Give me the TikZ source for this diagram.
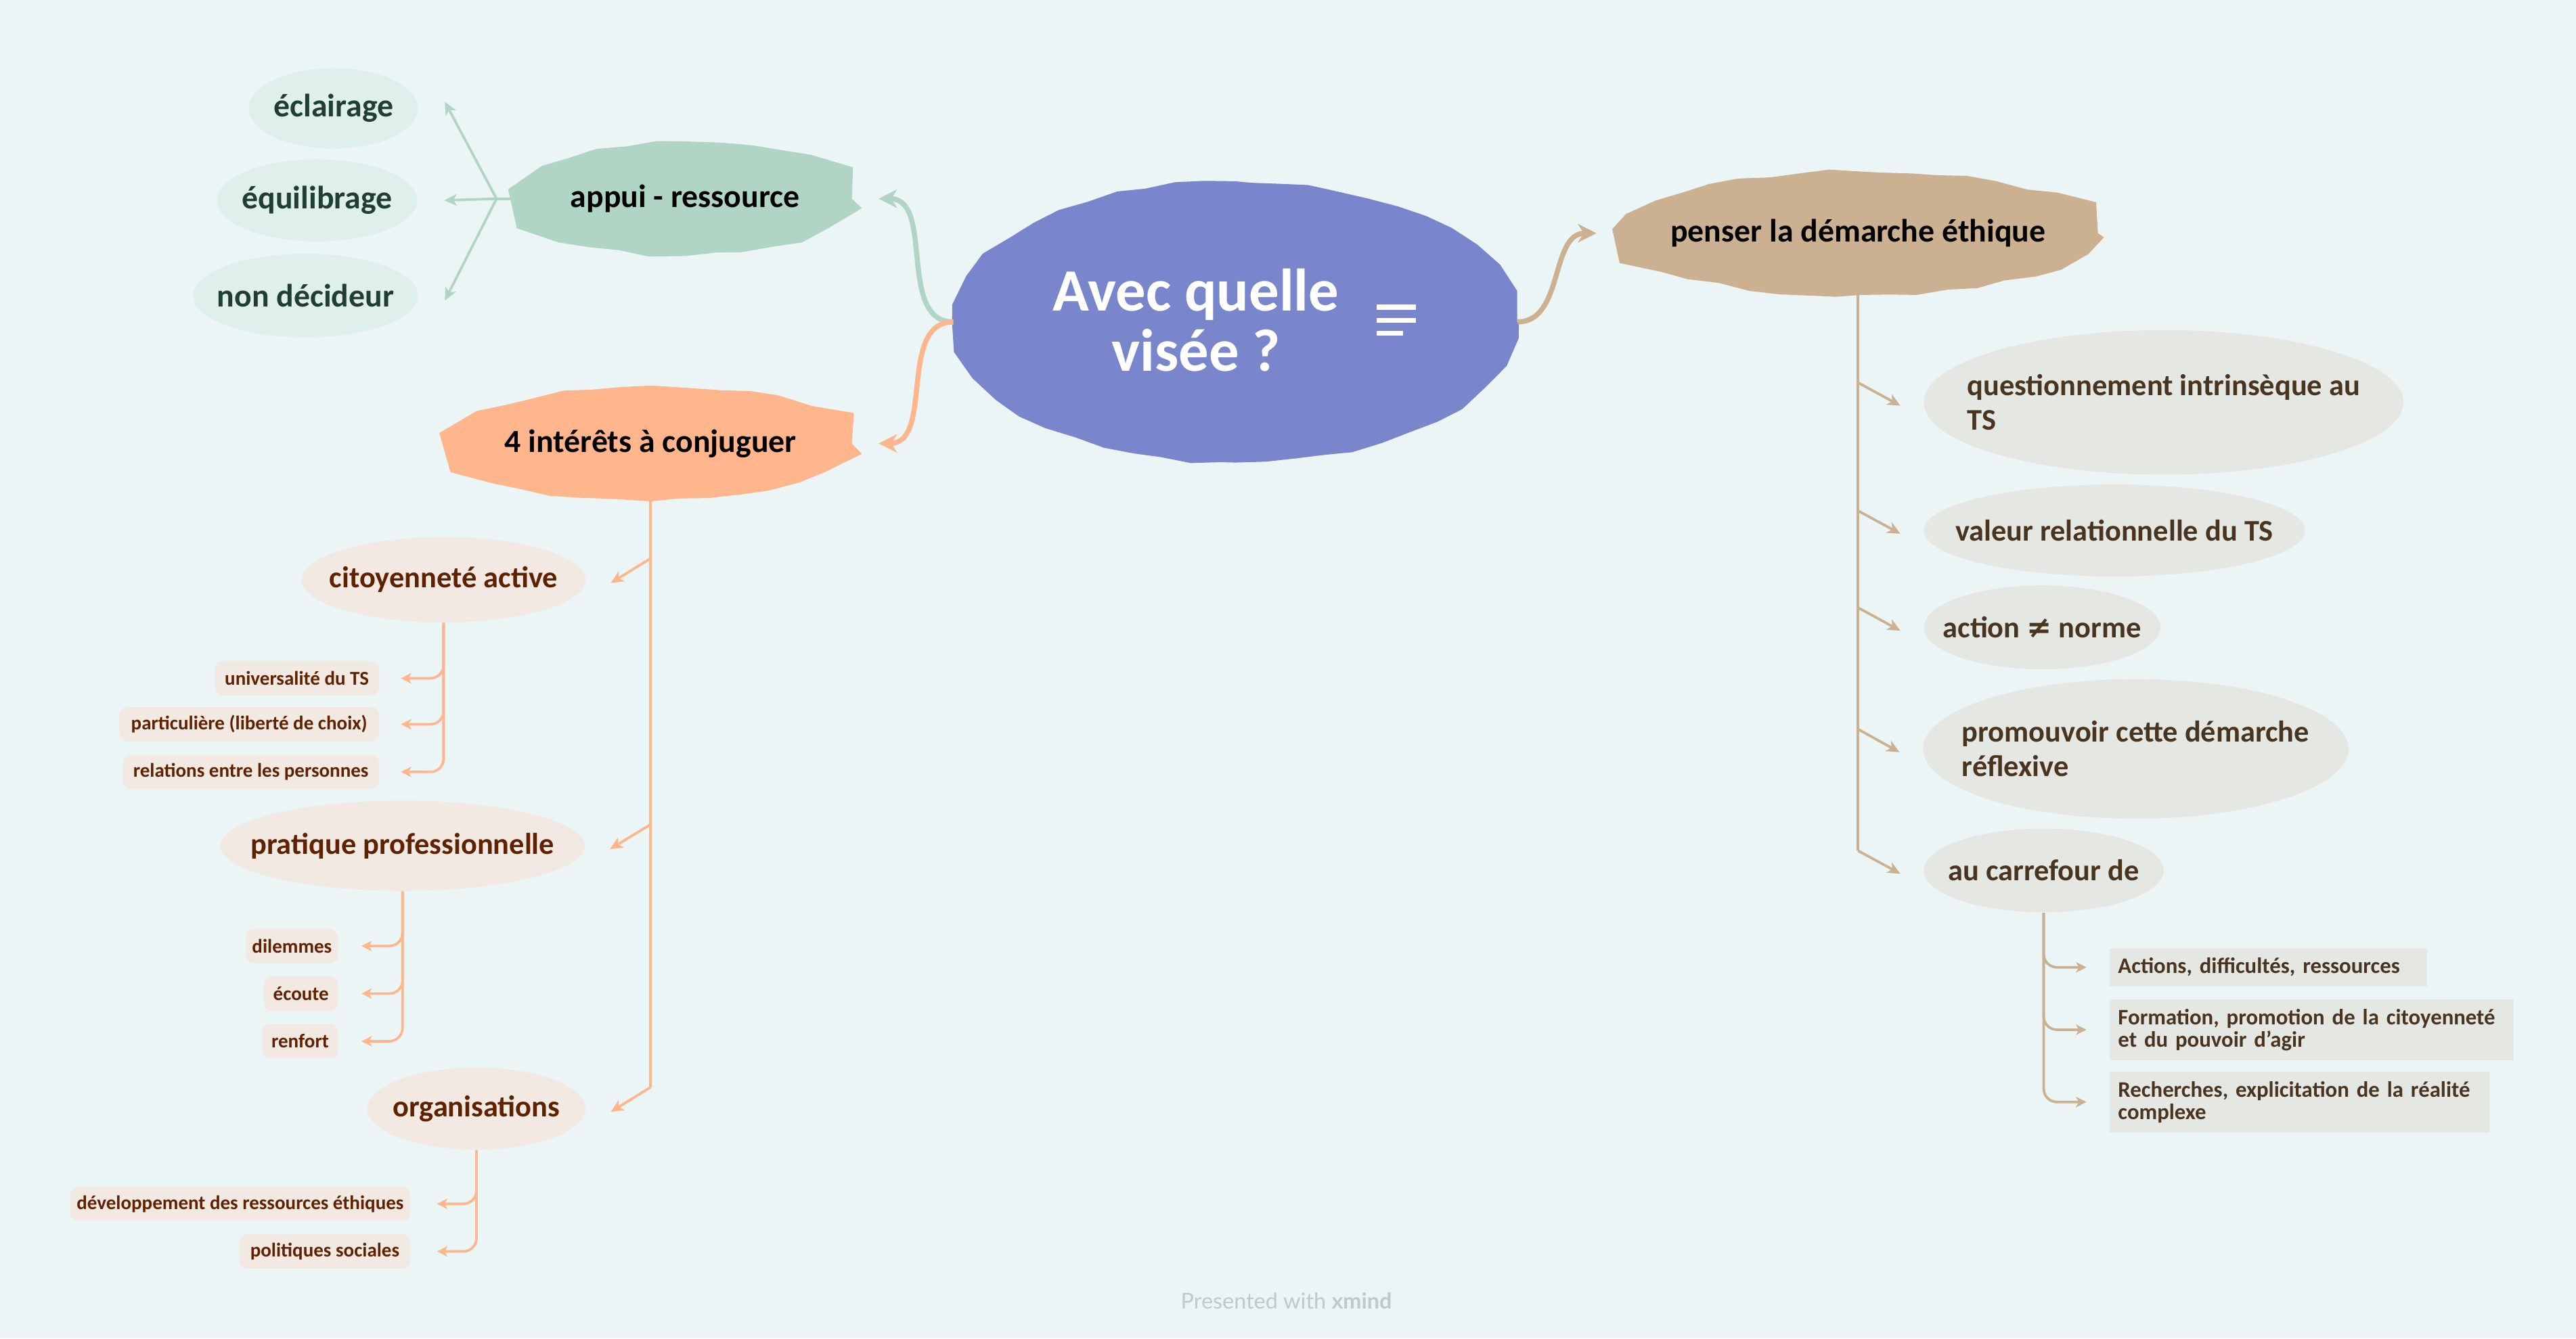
\documentclass[tikz,border=0pt]{standalone}
\usepackage{fontspec}
\setmainfont{Carlito}
\newfontfamily\footfont{Lato}
\newfontfamily\symfont{DejaVu Sans}
\usetikzlibrary{arrows.meta,positioning,shapes.geometric,calc,decorations.pathmorphing}
\definecolor{cPaper}{HTML}{ECF5F5}
\definecolor{cCentre}{HTML}{7986CB}
\definecolor{cSupport}{HTML}{B0D5C5}
\definecolor{cSupportLt}{HTML}{DFEFEB}
\definecolor{cSupportTx}{HTML}{1F3F31}
\definecolor{cInterest}{HTML}{FFB68C}
\definecolor{cInterestLt}{HTML}{F1E9E2}
\definecolor{cInterestTx}{HTML}{5E2200}
\definecolor{cEthic}{HTML}{CBB091}
\definecolor{cEthicLt}{HTML}{E4E7E2}
\definecolor{cEthicTx}{HTML}{48341F}
\definecolor{cFooter}{HTML}{BFC9C9}
\def\px{0.025cm}

\begin{document}
\pgfmathsetseed{11}
\begin{tikzpicture}[x=\px, y=-\px,
    blob/.style={ellipse, fill=#1, inner xsep=-3cm, inner ysep=-1cm, decorate, decoration={random steps, segment length=0.45cm, amplitude=0.035cm}},
    bubble/.style={ellipse, fill=#1, inner xsep=-3cm, inner ysep=-1cm},
    topic/.style={font=\fontsize{14}{16}\selectfont\bfseries, text=black},
    idea/.style={font=\fontsize{13}{15}\selectfont\bfseries},
    leaf/.style={rectangle, rounded corners=0.12cm, fill=cInterestLt, text=cInterestTx, font=\fontsize{8.5}{10}\selectfont\bfseries, inner xsep=1pt, minimum height=21*\px, anchor=east},
    note/.style={rectangle, fill=cEthicLt, text=cEthicTx, font=\fontsize{9.6}{9.6}\selectfont\bfseries, inner xsep=5*\px, align=left, anchor=west},
    marr/.style={draw=#1, line width=2.2pt, -{Stealth[length=8pt, width=8pt, inset=2.5pt]}},
    sarr/.style={draw=#1, line width=1.1pt, -{Stealth[length=5.5pt, width=5pt, inset=1.5pt]}},
    larr/.style={draw=#1, line width=1.1pt, rounded corners=0.2cm, -{Stealth[length=4.5pt, width=4.5pt, inset=1.2pt]}},
    tline/.style={draw=#1, line width=1.2pt},
]
\fill[cPaper] (0,0) rectangle (1568,815);
\useasboundingbox (0,0) rectangle (1568,815);

% Centre
\node[blob=cCentre, minimum width=343*\px, minimum height=171*\px] (c) at (752,196) {};
\node[font=\fontsize{26}{26}\selectfont\bfseries, text=white, align=center] (ct) at (728,195) {Avec quelle\\visée ?};
\foreach \dy/\len in {-9/24, -1/24, 7/16}
  \draw[white, line width=2.2pt] ($(c.center)+(86,\dy)$) -- ++(\len,0);

% Main topics
\node[blob=cSupport, topic, minimum width=203*\px, minimum height=68*\px] (ap) at (417,121) {appui - ressource};
\node[blob=cInterest, topic, minimum width=245*\px, minimum height=69*\px] (oi) at (396,270) {4 intérêts à conjuguer};
\node[blob=cEthic, topic, minimum width=292*\px, minimum height=75*\px] (pe) at (1131,142) {penser la démarche éthique};

\draw[marr=cSupport] (c.west) to[out=180, in=0] ($(ap.east)+(16,0)$);
\draw[marr=cInterest] (c.west) to[out=180, in=0] ($(oi.east)+(16,0)$);
\draw[marr=cEthic] (c.east) to[out=0, in=180] ($(pe.west)+(-13,0)$);

% appui - ressource
\node[bubble=cSupportLt, font=\fontsize{14}{16}\selectfont\bfseries, text=cSupportTx, minimum width=103*\px, minimum height=49*\px] (ecl) at (203,66) {éclairage};
\node[bubble=cSupportLt, font=\fontsize{14}{16}\selectfont\bfseries, text=cSupportTx, minimum width=122*\px, minimum height=50*\px] (equ) at (193,122) {équilibrage};
\node[bubble=cSupportLt, font=\fontsize{14}{16}\selectfont\bfseries, text=cSupportTx, minimum width=137*\px, minimum height=51*\px] (nd) at (186,180) {non décideur};

\coordinate (gj) at ($(ap.west)+(-13,0)$);
\draw[tline=cSupport] (ap.west) -- (gj);
\draw[sarr=cSupport] (gj) -- ($(ecl.east)+(16,-4)$);
\draw[sarr=cSupport] (gj) -- ($(equ.east)+(16,0)$);
\draw[sarr=cSupport] (gj) -- ($(nd.east)+(16,3)$);

% 4 interets
\node[bubble=cInterestLt, idea, text=cInterestTx, minimum width=173*\px, minimum height=52*\px] (ca) at (270,353) {citoyenneté active};
\node[bubble=cInterestLt, idea, text=cInterestTx, minimum width=222*\px, minimum height=55*\px] (pp) at (245,515) {pratique professionnelle};
\node[bubble=cInterestLt, idea, text=cInterestTx, minimum width=133*\px, minimum height=50*\px] (org) at (290,675) {organisations};

\draw[tline=cInterest] (oi.south) -- ($(oi.south |- org.east)+(0,-13)$);
\foreach \n in {ca,pp,org}
  \draw[sarr=cInterest] ($(oi.south |- \n.east)+(0,-13)$) -- ($(\n.east)+(15,2)$);

\node[leaf, minimum width=100*\px] (uni) at (231,413) {universalité du TS};
\node[leaf, minimum width=158*\px] (par) at (231,441) {particulière (liberté de choix)};
\node[leaf, minimum width=156*\px] (rel) at (231,470) {relations entre les personnes};
\node[leaf, minimum width=56*\px] (dil) at (206,576) {dilemmes};
\node[leaf, minimum width=45*\px] (eco) at (206,605) {écoute};
\node[leaf, minimum width=46*\px] (ren) at (206,634) {renfort};
\node[leaf, minimum width=207*\px] (dev) at (250,733) {développement des ressources éthiques};
\node[leaf, minimum width=104*\px] (pol) at (250,762) {politiques sociales};

\foreach \n in {uni,par,rel}
  \draw[larr=cInterest] (ca.south) |- ($(\n.east)+(13,0)$);
\foreach \n in {dil,eco,ren}
  \draw[larr=cInterest] (pp.south) |- ($(\n.east)+(14,0)$);
\foreach \n in {dev,pol}
  \draw[larr=cInterest] (org.south) |- ($(\n.east)+(16,0)$);

% penser la demarche ethique
\node[bubble=cEthicLt, idea, text=cEthicTx, minimum width=292*\px, minimum height=88*\px, align=left] (q) at (1317,245) {questionnement intrinsèque au\\TS};
\node[bubble=cEthicLt, idea, text=cEthicTx, minimum width=232*\px, minimum height=56*\px] (va) at (1287,323) {valeur relationnelle du TS};
\node[bubble=cEthicLt, idea, text=cEthicTx, minimum width=144*\px, minimum height=51*\px] (an) at (1243,382) {action {\symfont ≠} norme};
\node[bubble=cEthicLt, idea, text=cEthicTx, minimum width=259*\px, minimum height=85*\px, align=left] (pr) at (1300,456) {promouvoir cette démarche\\réflexive};
\node[bubble=cEthicLt, idea, text=cEthicTx, minimum width=146*\px, minimum height=51*\px] (car) at (1244,530) {au carrefour de};

\draw[tline=cEthic] (pe.south) -- ($(pe.south |- car.west)+(0,-12)$);
\foreach \n in {q,va,an,pr,car}
  \draw[sarr=cEthic] ($(pe.south |- \n.west)+(0,-12)$) -- ($(\n.west)+(-14,2)$);

\node[note, text width=183*\px, minimum height=23*\px] (act) at (1284,589) {Actions, difficultés, ressources};
\node[note, text width=236*\px, minimum height=37*\px] (frm) at (1284,627) {\mbox{Formation, promotion de la citoyenneté}\\et du pouvoir d'agir};
\node[note, text width=221*\px, minimum height=37*\px] (rec) at (1284,671) {\mbox{Recherches, explicitation de la réalité}\\complexe};

\foreach \n in {act,frm,rec}
  \draw[larr=cEthic] (car.south) |- ($(\n.west)+(-14,0)$);

% Footer
\node[font=\footfont\fontsize{9.5}{11}\selectfont, text=cFooter] (foot) at (783,792) {Presented with \textbf{xmind}};

\end{tikzpicture}
\end{document}
